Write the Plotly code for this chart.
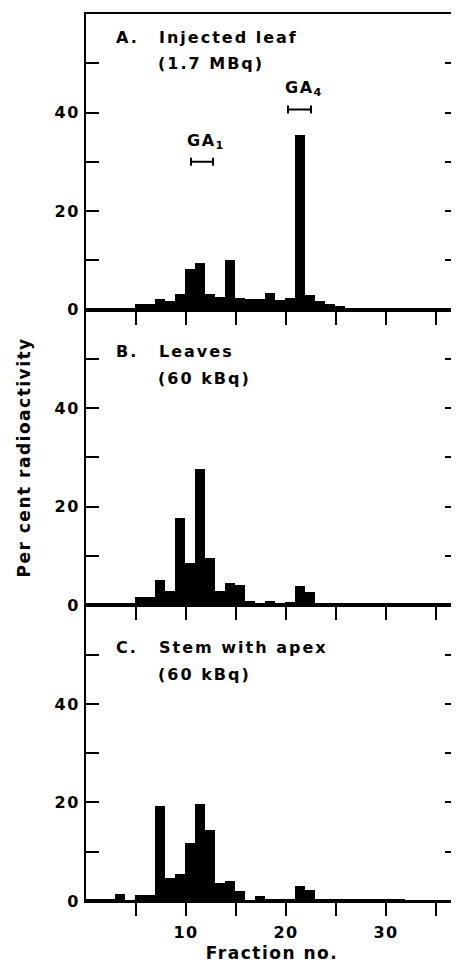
import plotly.graph_objects as go
from plotly.subplots import make_subplots

# fraction number of each bin (bins run n -> n+1)
fractions = list(range(0, 37))

# per cent radioactivity per fraction
injected_leaf = [0.3, 0.3, 0.3, 0.4, 0.4, 1.1, 1.1, 2.2, 1.8, 3.1,
                 8.2, 9.5, 3.2, 2.6, 10.0, 2.4, 2.2, 2.2, 3.4, 1.9,
                 2.4, 35.5, 3.0, 1.8, 1.1, 0.7, 0.4, 0.3, 0.3, 0.2,
                 0.2, 0.2, 0.2, 0.2, 0.3, 0.2, 0.2]
leaves = [0.3, 0.3, 0.3, 0.2, 0.2, 1.7, 1.7, 5.2, 3.0, 17.8,
          8.6, 27.7, 9.6, 3.0, 4.5, 4.2, 1.0, 0.6, 0.9, 0.4,
          0.7, 4.0, 2.8, 0.4, 0.2, 0.1, 0.1, 0.1, 0.1, 0.1,
          0.1, 0.1, 0.1, 0.1, 0.1, 0.1, 0.1]
stem_apex = [0.4, 0.4, 0.4, 1.3, 0.1, 1.2, 1.2, 19.3, 4.5, 5.5,
             11.8, 19.6, 14.4, 3.6, 3.9, 1.9, 0.1, 0.9, 0.3, 0.2,
             0.3, 2.9, 2.1, 0.2, 0.2, 0.2, 0.2, 0.2, 0.2, 0.2,
             0.2, 0.3, 0.1, 0.1, 0.1, 0.1, 0.1]

panel_letters = ["A.", "B.", "C."]
panel_titles = ["Injected leaf", "Leaves", "Stem with apex"]
panel_doses = ["(1.7 MBq)", "(60 kBq)", "(60 kBq)"]

# GA standards (elution range) shown in panel A
std_names = ["GA<sub>1</sub>", "GA<sub>4</sub>"]
std_center = [11.6, 21.35]
std_halfwidth = [1.1, 1.15]
std_level = [30.0, 40.6]

FONT = "DejaVu Sans"
TXT = dict(family=FONT, size=16, color="black", weight="bold")


def sp(t, ls=1.5):
    # widen the letter spacing a bit, like the typeset original
    return f'<span style="letter-spacing:{ls}px">{t}</span>'


fig = make_subplots(rows=3, cols=1, shared_xaxes=True, vertical_spacing=0)

for i, vals in enumerate([injected_leaf, leaves, stem_apex]):
    fig.add_trace(go.Bar(x=fractions, y=vals, width=1, offset=-0.1,
                         marker=dict(color="black", line=dict(width=0)),
                         showlegend=False), row=i + 1, col=1)

# bracket markers for the standards
fig.add_trace(go.Scatter(
    x=std_center, y=std_level, mode="markers",
    marker=dict(size=1, color="black"),
    error_x=dict(type="data", array=std_halfwidth, width=4, thickness=2, color="black"),
    showlegend=False), row=1, col=1)

for name, xc, yl in zip(std_names, std_center, std_level):
    fig.add_annotation(x=xc + 0.4, y=yl + 4.2, text=sp(name, 1.5), showarrow=False,
                       xanchor="center", yanchor="middle", xref="x", yref="y",
                       font=TXT)

label_y = [(55.2, 50.0), (51.5, 46.0), (51.4, 46.0)]
for i in range(3):
    xr = "x" if i == 0 else f"x{i + 1}"
    yr = "y" if i == 0 else f"y{i + 1}"
    y1, y2 = label_y[i]
    fig.add_annotation(x=2.8, y=y1, text=sp(panel_letters[i], 2), showarrow=False,
                       xanchor="left", yanchor="middle", xref=xr, yref=yr, font=TXT)
    fig.add_annotation(x=7.1, y=y1, text=sp(panel_titles[i], 2), showarrow=False,
                       xanchor="left", yanchor="middle", xref=xr, yref=yr, font=TXT)
    fig.add_annotation(x=7.0, y=y2, text=sp(panel_doses[i], 2), showarrow=False,
                       xanchor="left", yanchor="middle", xref=xr, yref=yr, font=TXT)

# shared y title, centred on the three panels
fig.add_annotation(x=0, y=0.5, xref="paper", yref="paper", xshift=-63,
                   text=sp("Per cent radioactivity"), textangle=-90, showarrow=False,
                   xanchor="center", yanchor="middle", font=dict(TXT, size=17))

ytick_vals = [0, 10, 20, 30, 40, 50]
ytick_text = [sp(t) for t in ["0", "", "20", "", "40", ""]]
xtick_vals = [5, 10, 15, 20, 25, 30, 35]
xtick_text = [sp(t) for t in ["", "10", "", "20", "", "30", ""]]

for r in range(1, 4):
    fig.update_yaxes(range=[0, 60], tickvals=ytick_vals, ticktext=ytick_text,
                     ticks="inside", ticklen=13, tickwidth=2, tickcolor="black",
                     showline=True, linewidth=2, linecolor="black", mirror="ticks",
                     showgrid=False, zeroline=False, ticklabelstandoff=1,
                     automargin=False, tickfont=TXT, row=r, col=1)
    fig.update_xaxes(range=[0, 37.2], tickvals=xtick_vals, ticktext=xtick_text,
                     ticks="outside", ticklen=13, tickwidth=2, tickcolor="black",
                     showline=True, linewidth=2, linecolor="black", mirror=True,
                     showgrid=False, zeroline=False, showticklabels=(r == 3),
                     automargin=False, tickfont=TXT, row=r, col=1)

fig.update_xaxes(title=dict(text=sp("Fraction no."), standoff=6,
                            font=dict(TXT, size=17)),
                 ticklabelstandoff=3, row=3, col=1)

# page body has an 8px margin, so the figure is sized to the visible window
fig.update_layout(width=451, height=959, margin=dict(l=78, r=1, t=6, b=66),
                  plot_bgcolor="white", paper_bgcolor="white", bargap=0)

fig.write_html("out.html")
